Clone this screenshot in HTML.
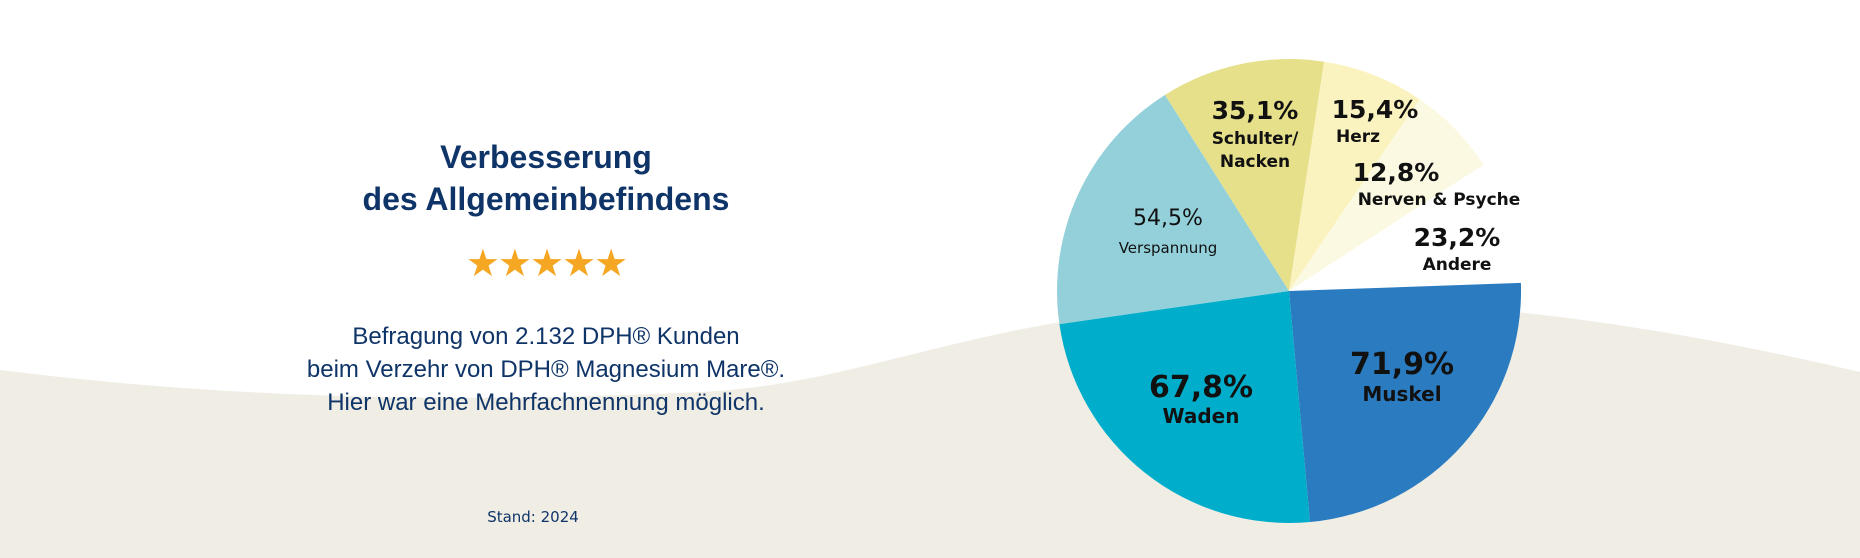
<!DOCTYPE html>
<html><head><meta charset="utf-8"><style>
html,body{margin:0;padding:0;background:#fff;width:1860px;height:558px;overflow:hidden}
svg{display:block}
</style></head><body>
<svg width="1860" height="558" viewBox="0 0 1860 558" xmlns="http://www.w3.org/2000/svg">
<path d="M0,370 C200,395 420,405 700,392 C850,385 950,330 1150,310 C1350,292 1550,300 1860,372 L1860,558 L0,558 Z" fill="#efede4"/>
<g font-family="'Liberation Sans',sans-serif" fill="#0f3468" text-anchor="middle">
<text x="546" y="168" font-size="32" font-weight="bold">Verbesserung</text>
<text x="546" y="210" font-size="32" font-weight="bold">des Allgemeinbefindens</text>
<text x="546" y="276" font-size="38" fill="#f5a623" letter-spacing="-2">★★★★★</text>
<text x="546" y="344" font-size="24">Befragung von 2.132 DPH® Kunden</text>
<text x="546" y="377" font-size="24">beim Verzehr von DPH® Magnesium Mare®.</text>
<text x="546" y="410" font-size="24">Hier war eine Mehrfachnennung möglich.</text>
<text x="533" y="522" font-size="15" font-family="'DejaVu Sans',sans-serif">Stand: 2024</text>
</g>
<g>
<path d="M1289,291 L1520.9,282.9 A232,232 0 0 1 1310,522 Z" fill="#2a7bbf"/>
<path d="M1289,291 L1310,522 A232,232 0 0 1 1059.4,324.1 Z" fill="#00aecb"/>
<path d="M1289,291 L1059.4,324.1 A232,232 0 0 1 1165,94.9 Z" fill="#93d0da"/>
<path d="M1289,291 L1165,94.9 A232,232 0 0 1 1324.1,61.7 Z" fill="#e6e08a"/>
<path d="M1289,291 L1324.1,61.7 A232,232 0 0 1 1419.7,99.3 Z" fill="#fbf3bf"/>
<path d="M1289,291 L1419.7,99.3 A232,232 0 0 1 1483.6,164.6 Z" fill="#fcf9e3"/>
</g>
<g font-family="'DejaVu Sans','Liberation Sans',sans-serif" font-weight="bold" fill="#111" text-anchor="middle">
<text x="1255" y="119" font-size="25">35,1%</text>
<text x="1255" y="144" font-size="17">Schulter/</text>
<text x="1255" y="167" font-size="17">Nacken</text>
<text x="1375" y="118" font-size="25">15,4%</text>
<text x="1336" y="142" font-size="17" text-anchor="start">Herz</text>
<text x="1396" y="181" font-size="25">12,8%</text>
<text x="1439" y="205" font-size="17">Nerven &amp; Psyche</text>
<text x="1457" y="246" font-size="25">23,2%</text>
<text x="1457" y="270" font-size="17">Andere</text>
<text x="1168" y="225" font-size="22" font-weight="normal">54,5%</text>
<text x="1168" y="253" font-size="15" font-weight="normal">Verspannung</text>
<text x="1402" y="374" font-size="30">71,9%</text>
<text x="1402" y="401" font-size="20">Muskel</text>
<text x="1201" y="397" font-size="30">67,8%</text>
<text x="1201" y="423" font-size="20">Waden</text>
</g>
</svg>
</body></html>
